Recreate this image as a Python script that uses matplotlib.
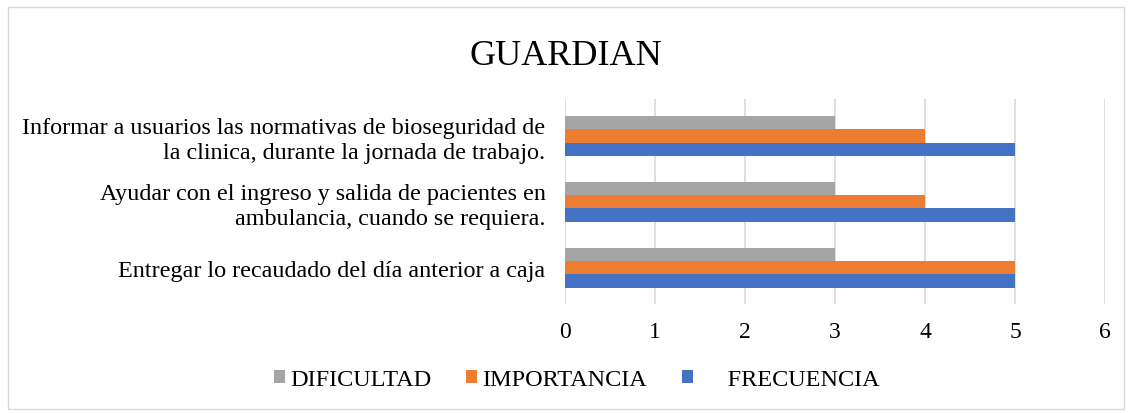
import numpy as np
import matplotlib
matplotlib.use('Agg')
import matplotlib.pyplot as plt
from matplotlib.patches import Rectangle

categories = ['Entregar lo recaudado del día anterior a caja',
              'Ayudar con el ingreso y salida de pacientes en\nambulancia, cuando se requiera.',
              'Informar a usuarios las normativas de bioseguridad de\nla clinica, durante la jornada de trabajo.']
frecuencia = [5, 5, 5]
importancia = [5, 4, 4]
dificultad = [3, 3, 3]
xticks = [0, 1, 2, 3, 4, 5, 6]

BLUE = '#4472C4'
ORANGE = '#ED7D31'
GRAY = '#A5A5A5'

plt.rcParams['font.family'] = ['Liberation Serif', 'DejaVu Serif']

fig = plt.figure(figsize=(11.32, 4.14), dpi=100)
fig.patches.append(Rectangle((8/1132, 4/414), 1 - 16/1132, 1 - 12/414, transform=fig.transFigure,
                             fill=False, edgecolor='#d9d9d9', linewidth=1))
ax = fig.add_axes([565/1132, 1 - 305/414, 540/1132, 205/414])

y = np.arange(len(categories))
h = 0.202
b1 = ax.barh(y + h, dificultad, height=h, color=GRAY, label='DIFICULTAD', zorder=3)
b2 = ax.barh(y, importancia, height=h, color=ORANGE, label='IMPORTANCIA', zorder=3)
b3 = ax.barh(y - h, frecuencia, height=h, color=BLUE, label='     FRECUENCIA', zorder=3)

ax.set_xlim(0, 6)
ax.set_ylim(-0.55, 2.56)
ax.set_xticks(xticks)
ax.set_yticks(y)
ax.set_yticklabels(categories, fontsize=17.4, ha='right', multialignment='right', linespacing=1.25)
ax.tick_params(axis='x', length=0, labelsize=17, pad=12)
ax.tick_params(axis='y', length=0, pad=14)
ax.grid(axis='x', color='#d9d9d9', linewidth=1.2, zorder=0)
for s in ax.spines.values():
    s.set_visible(False)

fig.text(0.5, 1 - 57/414, 'GUARDIAN', fontsize=26, ha='center', va='center')

fig.legend(handles=[b1, b2, b3], loc='center', bbox_to_anchor=(577/1132, 1 - 381/414), ncol=3,
           frameon=False, fontsize=17.5, handlelength=0.45, handleheight=0.45, handletextpad=0.2,
           columnspacing=1.44)

fig.savefig('out.png', dpi=100)
